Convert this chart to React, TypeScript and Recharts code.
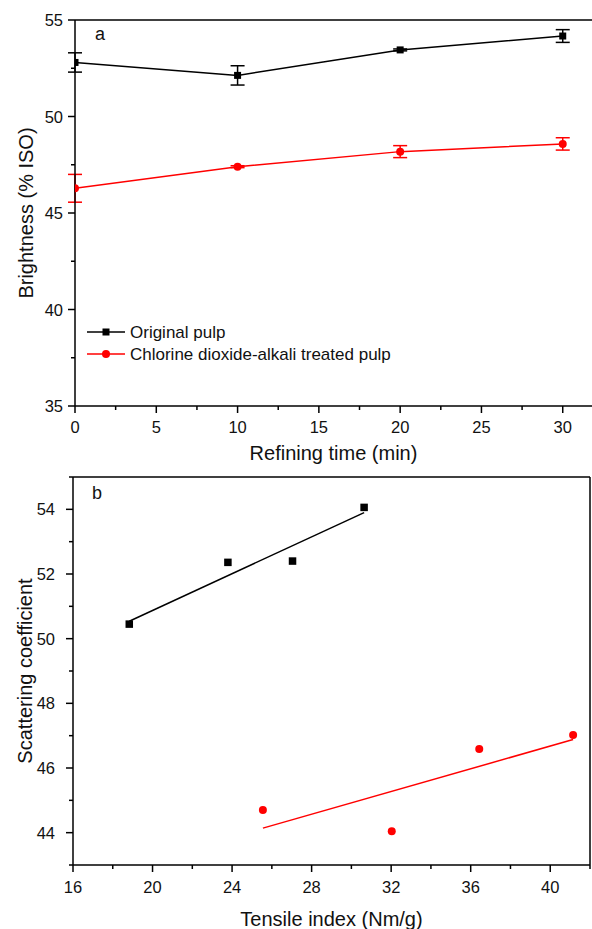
import React from "react";
import {
  ComposedChart,
  Line,
  Scatter,
  XAxis,
  YAxis,
  ErrorBar,
  Legend,
  ReferenceLine,
} from "recharts";

// panel a
const refiningTime = [0, 10, 20, 30];
const originalBrightness = [52.8, 52.13, 53.45, 54.17];
const originalBrightnessErr = [0.5, 0.5, 0.05, 0.33];
const treatedBrightness = [46.28, 47.4, 48.18, 48.58];
const treatedBrightnessErr = [0.72, 0.05, 0.31, 0.32];

const timeTicks = [0, 2.5, 5, 7.5, 10, 12.5, 15, 17.5, 20, 22.5, 25, 27.5, 30];
const timeLabels = [0, 5, 10, 15, 20, 25, 30];
const brightnessTicks = [35, 37.5, 40, 42.5, 45, 47.5, 50, 52.5, 55];
const brightnessLabels = [35, 40, 45, 50, 55];

// panel b
const tensileOriginal = [18.83, 23.79, 27.04, 30.64];
const scatteringOriginal = [50.45, 52.36, 52.4, 54.06];
const tensileTreated = [25.55, 32.03, 36.43, 41.15];
const scatteringTreated = [44.7, 44.04, 46.59, 47.02];
const fitOriginalX = [18.83, 30.64];
const fitOriginalY = [50.54, 53.9];
const fitTreatedX = [25.55, 41.15];
const fitTreatedY = [44.14, 46.88];

const tensileTicks = [16, 18, 20, 22, 24, 26, 28, 30, 32, 34, 36, 38, 40, 42];
const tensileLabels = [16, 20, 24, 28, 32, 36, 40];
const scatteringTicks = [43, 44, 45, 46, 47, 48, 49, 50, 51, 52, 53, 54, 55];
const scatteringLabels = [44, 46, 48, 50, 52, 54];

const brightnessData = refiningTime.map((t, i) => ({
  time: t,
  original: originalBrightness[i],
  originalErr: originalBrightnessErr[i],
  treated: treatedBrightness[i],
  treatedErr: treatedBrightnessErr[i],
}));

const toPoints = (xs: number[], ys: number[]) =>
  xs.map((x, i) => ({ x, y: ys[i] }));

const FONT = "'Liberation Sans', Arial, sans-serif";
const INK = "#111";

const makeXTick = (labels: number[], labelDy: number) => (props: any) => {
  const { x, y, payload } = props;
  const major = labels.includes(payload.value);
  return (
    <g>
      <line x1={x} x2={x} y1={y} y2={y + (major ? 7 : 4)} stroke="#000" strokeWidth={1.5} />
      {major && (
        <text x={x} y={y + labelDy} textAnchor="middle" dominantBaseline="central"
          fontFamily={FONT} fontSize={16.5} fill={INK}>
          {payload.value}
        </text>
      )}
    </g>
  );
};

const makeYTick = (labels: number[], labelDx: number) => (props: any) => {
  const { x, y, payload } = props;
  const major = labels.includes(payload.value);
  return (
    <g>
      <line x1={x} x2={x - (major ? 7 : 4)} y1={y} y2={y} stroke="#000" strokeWidth={1.5} />
      {major && (
        <text x={x - labelDx} y={y} textAnchor="end" dominantBaseline="central"
          fontFamily={FONT} fontSize={16.5} fill={INK}>
          {payload.value}
        </text>
      )}
    </g>
  );
};

const xTitle = (text: string, dy: number) => (props: any) => {
  const vb = props.viewBox;
  return (
    <text x={vb.x + vb.width / 2} y={vb.y + dy} textAnchor="middle" dominantBaseline="central"
      fontFamily={FONT} fontSize={20} fill={INK}>
      {text}
    </text>
  );
};

const yTitle = (text: string, cx: number) => (props: any) => {
  const vb = props.viewBox;
  const cy = vb.y + vb.height / 2;
  return (
    <text x={cx} y={cy} transform={`rotate(-90 ${cx} ${cy})`} textAnchor="middle"
      dominantBaseline="central" fontFamily={FONT} fontSize={20} fill={INK}>
      {text}
    </text>
  );
};

const squareDot = (size: number, color: string) => (p: any) => (
  <rect key={`s-${p.index}-${p.cx}`} x={p.cx - size / 2} y={p.cy - size / 2}
    width={size} height={size} fill={color} />
);

const circleDot = (r: number, color: string) => (p: any) => (
  <circle key={`c-${p.index}-${p.cx}`} cx={p.cx} cy={p.cy} r={r} fill={color} />
);

const renderLegend = () => (
  <svg width={330} height={46} style={{ display: "block" }}>
    <line x1={7} x2={45} y1={12} y2={12} stroke="#000" strokeWidth={1.5} />
    <rect x={22.5} y={8.5} width={7} height={7} fill="#000" />
    <text x={50} y={12} dominantBaseline="central" fontFamily={FONT} fontSize={17} fill={INK}>
      Original pulp
    </text>
    <line x1={7} x2={45} y1={34} y2={34} stroke="#ff0000" strokeWidth={1.5} />
    <circle cx={26} cy={34} r={4} fill="#ff0000" />
    <text x={50} y={34} dominantBaseline="central" fontFamily={FONT} fontSize={17} fill={INK}>
      Chlorine dioxide-alkali treated pulp
    </text>
  </svg>
);

const panelLabel = (text: string, left: number, top: number) => (
  <div style={{ position: "absolute", left, top, fontFamily: FONT, fontSize: 18, color: INK, lineHeight: "20px" }}>
    {text}
  </div>
);

const axisStyle = { stroke: "#000", strokeWidth: 1.5 };

export default function App() {
  return (
    <div style={{ position: "absolute", left: 0, top: 0, width: 592, height: 929, background: "#fff" }}>
      <div style={{ position: "absolute", left: 0, top: 0 }}>
        <ComposedChart width={592} height={464} data={brightnessData}
          margin={{ top: 20, right: 0, bottom: 0, left: 0 }}>
          <XAxis dataKey="time" type="number" domain={[0, 31.8]} ticks={timeTicks} interval={0}
            height={58} tickSize={0} tickMargin={0} tickLine={false} axisLine={axisStyle}
            tick={makeXTick(timeLabels, 21)} allowDataOverflow
            label={{ content: xTitle("Refining time (min)", 47) }} />
          <YAxis type="number" domain={[35, 55]} ticks={brightnessTicks} interval={0}
            width={75} tickSize={0} tickMargin={0} tickLine={false} axisLine={axisStyle}
            tick={makeYTick(brightnessLabels, 12)}
            label={{ content: yTitle("Brightness (% ISO)", 26) }} />
          <ReferenceLine y={55} stroke="#000" strokeWidth={1.5} />
          <Line dataKey="original" name="Original pulp" stroke="#000" strokeWidth={1.5}
            dot={squareDot(7, "#000")} activeDot={false} isAnimationActive={false}>
            <ErrorBar dataKey="originalErr" width={7} stroke="#000" strokeWidth={1.5} direction="y" />
          </Line>
          <Line dataKey="treated" name="Chlorine dioxide-alkali treated pulp" stroke="#ff0000"
            strokeWidth={1.5} dot={circleDot(4, "#ff0000")} activeDot={false} isAnimationActive={false}>
            <ErrorBar dataKey="treatedErr" width={7} stroke="#ff0000" strokeWidth={1.5} direction="y" />
          </Line>
          <Legend layout="vertical" align="center" verticalAlign="middle" content={renderLegend}
            wrapperStyle={{ left: 80, top: 320, width: 330, height: 46 }} />
        </ComposedChart>
        {panelLabel("a", 95, 24)}
      </div>

      <div style={{ position: "absolute", left: 0, top: 464 }}>
        <ComposedChart width={592} height={465} margin={{ top: 13, right: 2, bottom: 0, left: 0 }}>
          <XAxis dataKey="x" type="number" domain={[16, 42]} ticks={tensileTicks} interval={0}
            height={64} tickSize={0} tickMargin={0} tickLine={false} axisLine={axisStyle}
            tick={makeXTick(tensileLabels, 22)}
            label={{ content: xTitle("Tensile index (Nm/g)", 54) }} />
          <YAxis dataKey="y" type="number" domain={[43, 55]} ticks={scatteringTicks} interval={0}
            width={73} tickSize={0} tickMargin={0} tickLine={false} axisLine={axisStyle}
            tick={makeYTick(scatteringLabels, 18)}
            label={{ content: yTitle("Scattering coefficient", 25) }} />
          <ReferenceLine y={55} stroke="#000" strokeWidth={1.5} />
          <ReferenceLine x={42} stroke="#000" strokeWidth={1.5} />
          <Scatter data={toPoints(fitOriginalX, fitOriginalY)} line={{ stroke: "#000", strokeWidth: 1.5 }}
            shape={() => <g />} isAnimationActive={false} />
          <Scatter data={toPoints(fitTreatedX, fitTreatedY)} line={{ stroke: "#ff0000", strokeWidth: 1.5 }}
            shape={() => <g />} isAnimationActive={false} />
          <Scatter data={toPoints(tensileOriginal, scatteringOriginal)} fill="#000"
            shape={squareDot(7.5, "#000")} isAnimationActive={false} />
          <Scatter data={toPoints(tensileTreated, scatteringTreated)} fill="#ff0000"
            shape={circleDot(4, "#ff0000")} isAnimationActive={false} />
        </ComposedChart>
        {panelLabel("b", 92, 19)}
      </div>
    </div>
  );
}
